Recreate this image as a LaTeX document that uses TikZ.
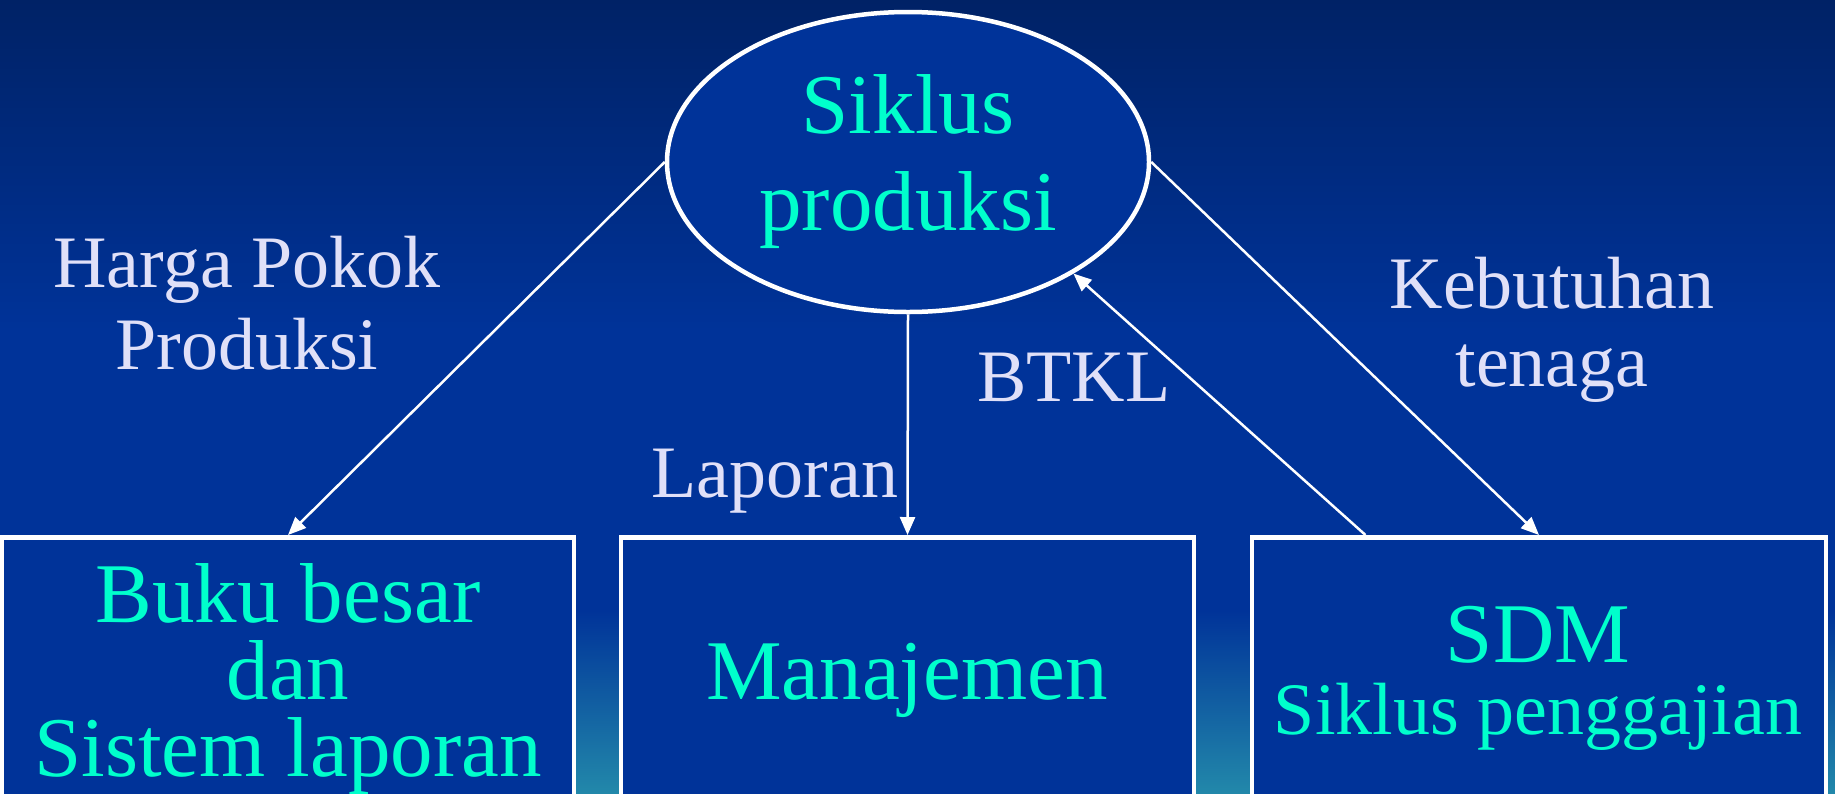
\documentclass[tikz,border=0pt]{standalone}
\usepackage{fontspec}
\setmainfont{Liberation Serif}
\usetikzlibrary{arrows.meta,shapes.geometric,calc}
\definecolor{bgtop}{HTML}{002266}
\definecolor{bgmid}{HTML}{003399}
\definecolor{bgbot}{HTML}{2288AA}
\definecolor{aqua}{HTML}{00FFCC}
\definecolor{lav}{HTML}{E0E0F8}
\begin{document}
\begin{tikzpicture}[x=1pt,y=-1pt,
  boxnode/.style={draw=white,line width=4.5pt,fill=bgmid,rectangle,inner sep=0pt,minimum height=300pt,anchor=north},
  ellnode/.style={ellipse,draw=white,line width=4.5pt,fill=bgmid,inner sep=0pt,minimum width=482pt,minimum height=300pt,text=aqua,align=center,font=\fontsize{85}{97}\selectfont},
  conn/.style={draw=white,line width=2.5pt,-{Triangle[length=18pt,width=15pt]}},
  lbl/.style={text=lav,inner sep=0pt,align=center,anchor=base,font=\fontsize{74}{82}\selectfont},
  boxtxt/.style={text=aqua,inner sep=0pt,align=center,anchor=base,font=\fontsize{85}{77}\selectfont},
  boxtxtsmall/.style={text=aqua,inner sep=0pt,align=center,anchor=base,font=\fontsize{74}{77}\selectfont}]
\useasboundingbox (0,0) rectangle (1835,793);
\clip (0,0) rectangle (1835,793);
% background
\shade[top color=bgtop,bottom color=bgmid] (0,0) rectangle (1835,331);
\fill[bgmid] (0,330) rectangle (1835,611);
\shade[top color=bgmid,bottom color=bgbot] (0,610) rectangle (1835,793);
% boxes
\node[boxnode,minimum width=572pt] (b1) at (288,535) {};
\node[boxnode,minimum width=573pt] (b2) at (907.5,535) {};
\node[boxnode,minimum width=574pt] (b3) at (1539,535) {};
% ellipse
\node[ellnode] (ell) at (908,162) {Siklus\\produksi};
% connectors
\coordinate (b3top) at ($(b3.north west)!0.2!(b3.north east)$);
\draw[conn] (ell.west) -- (b1.north);
\draw[conn] (ell.south) -- (b2.north);
\draw[conn] (b3top) -- (ell.-34.7);
\draw[conn] (ell.east) -- (b3.north);
% labels (base anchor = baseline of last line)
\node[lbl] (lhpp) at (247,369) {Harga Pokok\\Produksi};
\node[lbl,font=\fontsize{74}{78}\selectfont] (lkeb) at (1552,386) {Kebutuhan\\tenaga};
\node[lbl] (lbtkl) at (1074,401) {BTKL};
\node[lbl] (llap) at (775,497) {Laporan};
% box texts
\node[boxtxt] (t1) at (288,776) {Buku besar\\dan\\Sistem laporan};
\node[boxtxt] (t2) at (907,699) {Manajemen};
\node[boxtxt] (t3a) at (1538,662) {SDM};
\node[boxtxtsmall] (t3b) at (1538,734) {Siklus penggajian};
\end{tikzpicture}
\end{document}
